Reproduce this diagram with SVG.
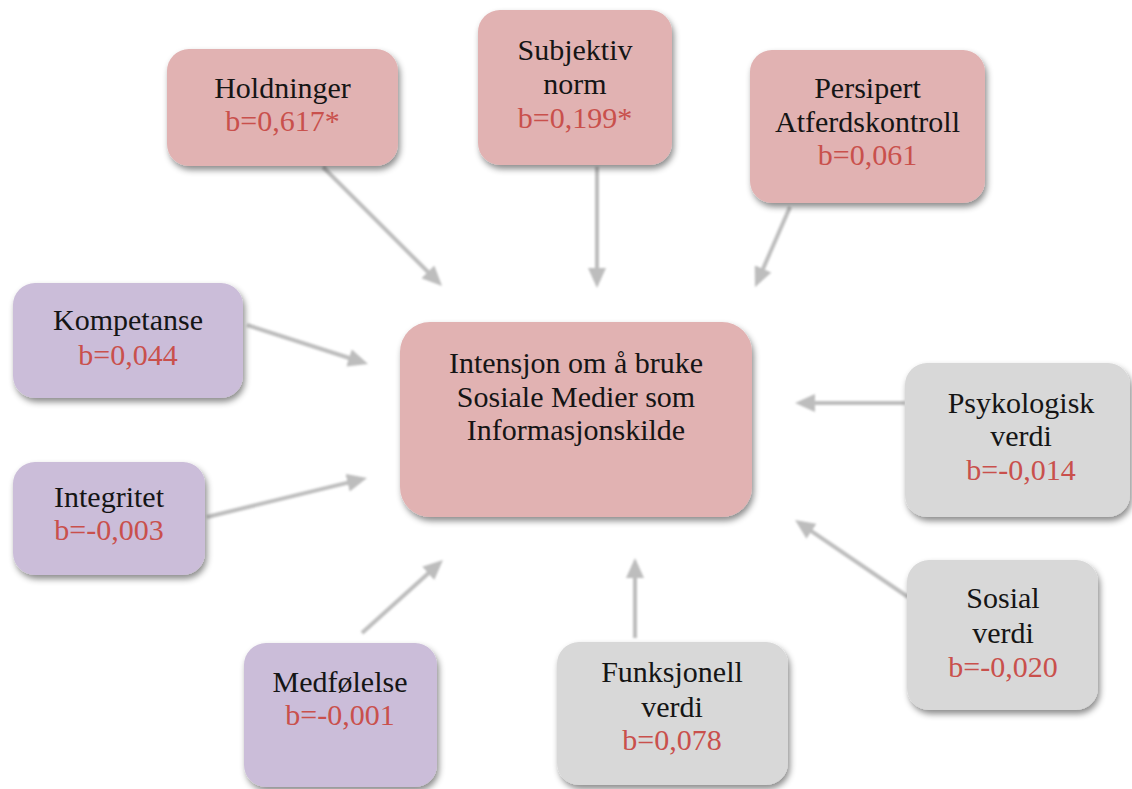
<svg xmlns="http://www.w3.org/2000/svg" width="1132" height="789" viewBox="0 0 1132 789">
<defs>
<filter id="sh" x="-10%" y="-10%" width="125%" height="130%">
<feDropShadow dx="2" dy="4" stdDeviation="3" flood-color="#000" flood-opacity="0.45"/>
</filter>
<filter id="bl" x="-20%" y="-20%" width="140%" height="140%">
<feGaussianBlur stdDeviation="0.8"/>
</filter>
<marker id="ah" markerUnits="userSpaceOnUse" markerWidth="20" markerHeight="18" refX="10" refY="9" orient="auto">
<path d="M0,0 L20,9 L0,18 z" fill="#bdbdbd"/>
</marker>
<style>
.pink{fill:#e1b2b2}
.purple{fill:#cbbdd9}
.gray{fill:#d8d8d8}
.box{filter:url(#sh)}
text{font-family:"Liberation Serif","Times New Roman",serif;font-size:30px;text-anchor:middle;fill:#151515}
.v{fill:#c9504c}
.con line{stroke:#bdbdbd;stroke-width:4;marker-end:url(#ah)}
</style>
</defs>
<rect width="1132" height="789" fill="#fff"/>
<g class="con" id="connectors" filter="url(#bl)">
<line x1="323" y1="167" x2="435" y2="279"/>
<line x1="597" y1="167" x2="597" y2="278"/>
<line x1="790" y1="207" x2="759" y2="278"/>
<line x1="247" y1="325" x2="358.5" y2="361"/>
<line x1="207" y1="517" x2="357.3" y2="480.4"/>
<line x1="362" y1="633" x2="435.6" y2="566.7"/>
<line x1="635" y1="638" x2="635" y2="568"/>
<line x1="905" y1="403" x2="805" y2="403"/>
<line x1="908" y1="597" x2="803.3" y2="525.6"/>
</g>
<g id="holdninger"><rect class="box pink" x="167" y="49" width="231" height="117" rx="22"/>
<text x="282.5" y="98">Holdninger</text><text class="v" x="282.5" y="131">b=0,617*</text></g>
<g id="subjektiv"><rect class="box pink" x="478" y="10" width="194" height="155" rx="22"/>
<text x="575" y="60">Subjektiv</text><text x="575" y="94">norm</text><text class="v" x="575" y="128">b=0,199*</text></g>
<g id="persipert"><rect class="box pink" x="750" y="50" width="235" height="153" rx="22"/>
<text x="867.5" y="98">Persipert</text><text x="867.5" y="132">Atferdskontroll</text><text class="v" x="867.5" y="165">b=0,061</text></g>
<g id="kompetanse"><rect class="box purple" x="13" y="283" width="230" height="115" rx="22"/>
<text x="128" y="330">Kompetanse</text><text class="v" x="128" y="365">b=0,044</text></g>
<g id="integritet"><rect class="box purple" x="13" y="462" width="192" height="113" rx="22"/>
<text x="109" y="507">Integritet</text><text class="v" x="109" y="540">b=-0,003</text></g>
<g id="medfolelse"><rect class="box purple" x="244" y="643" width="193" height="144" rx="22"/>
<text x="340" y="692">Medfølelse</text><text class="v" x="340" y="725">b=-0,001</text></g>
<g id="funksjonell"><rect class="box gray" x="557" y="642" width="231" height="143" rx="22"/>
<text x="672" y="682">Funksjonell</text><text x="672" y="717">verdi</text><text class="v" x="672" y="750">b=0,078</text></g>
<g id="intensjon"><rect class="box pink" x="400" y="322" width="352" height="195" rx="30"/>
<text x="576" y="373">Intensjon om å bruke</text><text x="576" y="407">Sosiale Medier som</text><text x="576" y="440">Informasjonskilde</text></g>
<g id="psykologisk"><rect class="box gray" x="905" y="363" width="225" height="154" rx="22"/>
<text x="1021" y="413">Psykologisk</text><text x="1021" y="446">verdi</text><text class="v" x="1021" y="480">b=-0,014</text></g>
<g id="sosial"><rect class="box gray" x="907" y="560" width="191" height="150" rx="22"/>
<text x="1003" y="608">Sosial</text><text x="1003" y="643">verdi</text><text class="v" x="1003" y="677">b=-0,020</text></g>
</svg>
